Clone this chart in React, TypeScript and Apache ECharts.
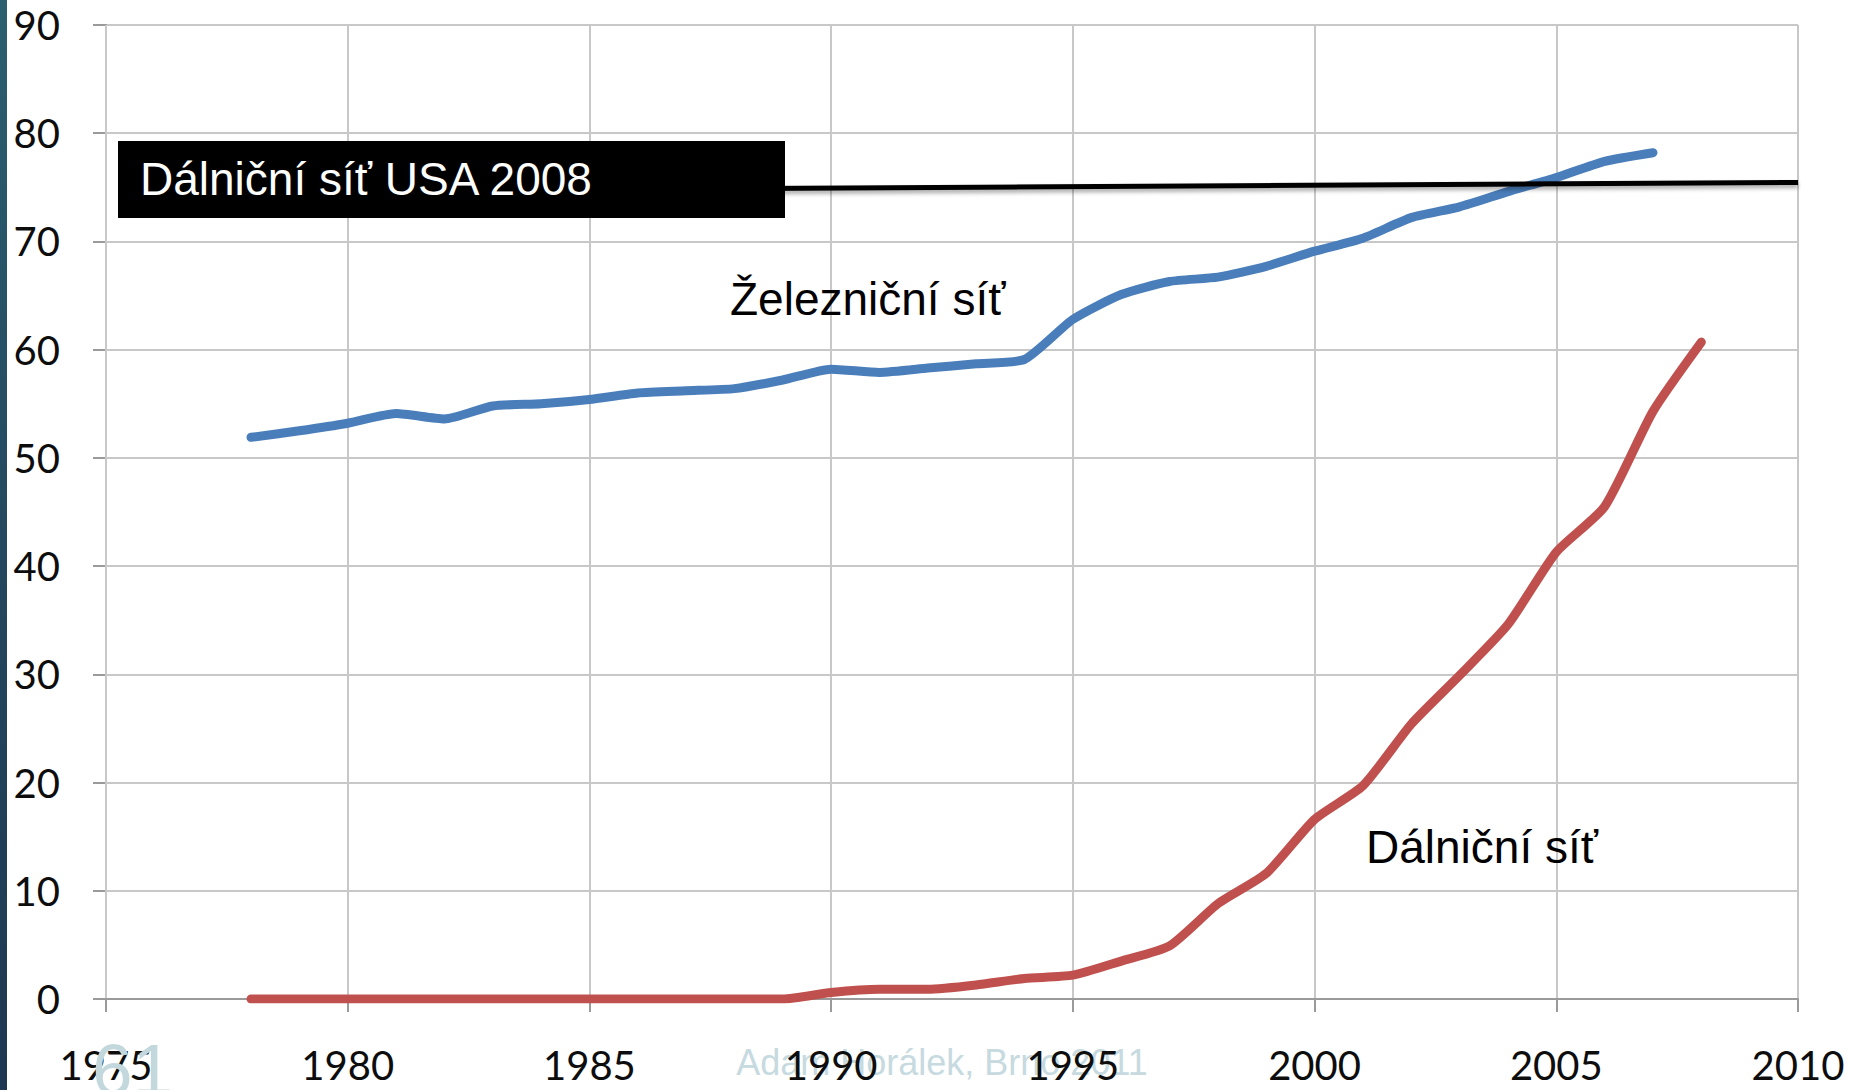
import React, { useEffect, useRef } from "react";
import * as echarts from "echarts";

const xTicksMin = 1975;
const xTicksMax = 2010;
const xTickStep = 5;
const yTicksMin = 0;
const yTicksMax = 90;
const yTickStep = 10;

const railYears = [
  1978, 1979, 1980, 1981, 1982, 1983, 1984, 1985, 1986, 1987, 1988, 1989, 1990, 1991, 1992,
  1993, 1994, 1995, 1996, 1997, 1998, 1999, 2000, 2001, 2002, 2003, 2004, 2005, 2006, 2007,
];
const railValues = [
  51.9, 52.5, 53.2, 54.1, 53.6, 54.8, 55.0, 55.4, 56.0, 56.2, 56.4, 57.2, 58.2, 57.9, 58.3,
  58.7, 59.1, 62.8, 65.1, 66.3, 66.7, 67.7, 69.1, 70.3, 72.2, 73.2, 74.6, 75.9, 77.4, 78.2,
];

const highwayYears = [
  1978, 1979, 1980, 1981, 1982, 1983, 1984, 1985, 1986, 1987, 1988, 1989, 1990, 1991, 1992,
  1993, 1994, 1995, 1996, 1997, 1998, 1999, 2000, 2001, 2002, 2003, 2004, 2005, 2006, 2007,
  2008,
];
const highwayValues = [
  0, 0, 0, 0, 0, 0, 0, 0, 0, 0, 0, 0, 0.6, 0.9, 0.9, 1.3, 1.9, 2.2, 3.5, 4.9, 8.8, 11.6, 16.6,
  19.7, 25.4, 29.9, 34.6, 41.3, 45.5, 54.3, 60.7,
];

const usaYears = [1975.5, 2010];
const usaValues = [74.55, 75.45];

const railLabel = "Železniční síť";
const highwayLabel = "Dálniční síť";
const usaLabel = "Dálniční síť USA 2008";
const footerText = "Adam Horálek, Brno 2011";
const slideNumber = "61";

export default function App() {
  const ref = useRef<HTMLDivElement>(null);

  useEffect(() => {
    document.body.style.margin = "0";
    const chart = echarts.init(ref.current as HTMLDivElement, null, { renderer: "svg" });

    const axisCommon = {
      axisLine: { show: true, lineStyle: { color: "#9a9a9a", width: 2 } },
      axisTick: { show: true, length: 13, inside: false, lineStyle: { color: "#9a9a9a", width: 2 } },
      splitLine: { show: true, lineStyle: { color: "#c8c8c8", width: 2 } },
    };

    chart.setOption({
      animation: false,
      backgroundColor: "#ffffff",
      grid: { left: 106, right: 54, top: 25, bottom: 91, containLabel: false },
      xAxis: {
        type: "value",
        min: xTicksMin,
        max: xTicksMax,
        interval: xTickStep,
        z: 1,
        ...axisCommon,
        axisLabel: {
          fontFamily: "Lato",
          fontSize: 40,
          color: "#0d0d0d",
          margin: 46,
          formatter: (v: number) => String(v),
        },
      },
      yAxis: {
        type: "value",
        min: yTicksMin,
        max: yTicksMax,
        interval: yTickStep,
        ...axisCommon,
        axisLabel: {
          fontFamily: "Lato",
          fontSize: 40,
          color: "#0d0d0d",
          margin: 46,
          padding: [12, 0, 0, 0],
        },
      },
      series: [
        {
          type: "line",
          name: highwayLabel,
          data: highwayYears.map((y, i) => [y, highwayValues[i]]),
          showSymbol: false,
          smooth: 0.2,
          z: 3,
          lineStyle: { color: "#c0504d", width: 9, cap: "round", join: "round" },
        },
        {
          type: "line",
          name: railLabel,
          data: railYears.map((y, i) => [y, railValues[i]]),
          showSymbol: false,
          smooth: 0.2,
          z: 3,
          lineStyle: { color: "#4a7ebb", width: 9, cap: "round", join: "round" },
        },
        {
          type: "line",
          name: usaLabel,
          data: usaYears.map((y, i) => [y, usaValues[i]]),
          showSymbol: false,
          z: 4,
          lineStyle: {
            color: "#000000",
            width: 5,
            shadowColor: "rgba(0,0,0,0.35)",
            shadowBlur: 4,
            shadowOffsetY: 3,
          },
        },
      ],
      graphic: [
        {
          type: "rect",
          left: 0,
          top: 0,
          z: 10,
          shape: { width: 7, height: 1090 },
          style: {
            fill: new echarts.graphic.LinearGradient(0, 0, 0, 1, [
              { offset: 0, color: "#2a5f70" },
              { offset: 0.5, color: "#24485f" },
              { offset: 1, color: "#1d3850" },
            ]),
          },
        },
        {
          type: "rect",
          z: 100,
          shape: { x: 118, y: 141, width: 667, height: 77 },
          style: { fill: "#000000" },
        },
        {
          type: "text",
          z: 101,
          x: 140,
          y: 179,
          style: {
            text: usaLabel,
            fill: "#ffffff",
            fontFamily: "Liberation Sans",
            fontSize: 46,
            textAlign: "left",
            textVerticalAlign: "middle",
          },
        },
        {
          type: "text",
          z: 101,
          x: 730,
          y: 299,
          style: {
            text: railLabel,
            fill: "#000000",
            fontFamily: "Liberation Sans",
            fontSize: 46,
            textAlign: "left",
            textVerticalAlign: "middle",
          },
        },
        {
          type: "text",
          z: 101,
          x: 1366,
          y: 847,
          style: {
            text: highwayLabel,
            fill: "#000000",
            fontFamily: "Liberation Sans",
            fontSize: 46,
            textAlign: "left",
            textVerticalAlign: "middle",
          },
        },
        {
          type: "text",
          z: -1,
          x: 942,
          y: 1062,
          style: {
            text: footerText,
            fill: "#c6dadf",
            fontFamily: "Liberation Sans",
            fontSize: 36,
            textAlign: "center",
            textVerticalAlign: "middle",
          },
        },
        {
          type: "text",
          z: 5,
          x: 92,
          y: 1069,
          style: {
            text: slideNumber,
            fill: "#c3d8dc",
            fontFamily: "Liberation Sans",
            fontSize: 73,
            textAlign: "left",
            textVerticalAlign: "middle",
          },
        },
      ],
    });

    return () => {
      chart.dispose();
    };
  }, []);

  return <div ref={ref} style={{ width: 1852, height: 1090, background: "#ffffff" }} />;
}
